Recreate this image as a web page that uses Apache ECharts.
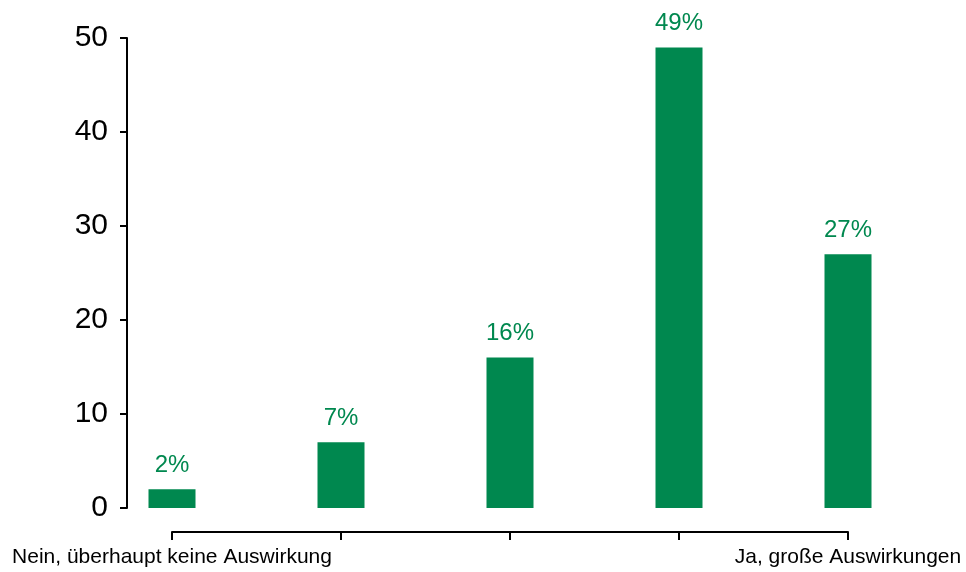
<!DOCTYPE html>
<html>
<head>
<meta charset="utf-8">
<script src="https://cdn.jsdelivr.net/npm/echarts@6/dist/echarts.min.js"></script>
<style>
html,body{margin:0;padding:0;background:#fff;}
#chart{width:966px;height:572px;}
</style>
</head>
<body>
<div id="chart"></div>
<script>
const categories = ["Nein, überhaupt keine Auswirkung", "2", "3", "4", "Ja, große Auswirkungen"];
const values = [2, 7, 16, 49, 27];
const yTicks = [0, 10, 20, 30, 40, 50];

const chart = echarts.init(document.getElementById('chart'), null, {renderer: 'canvas'});
const FONT = '"Liberation Sans", Arial, Helvetica, sans-serif';
chart.setOption({
  animation: false,
  backgroundColor: '#ffffff',
  grid: {left: 172, right: 118, top: 38, bottom: 64},
  xAxis: {
    type: 'category',
    data: categories,
    boundaryGap: false,
    offset: 24,
    axisLine: {onZero: false, lineStyle: {color: '#000', width: 2}},
    axisTick: {show: true, length: 8, lineStyle: {color: '#000', width: 2}, alignWithLabel: true},
    axisLabel: {
      interval: 0,
      margin: 15,
      color: '#000',
      fontFamily: FONT,
      fontSize: 21,
      formatter: function (v, i) { return (i === 0 || i === categories.length - 1) ? v : ''; }
    },
    splitLine: {show: false}
  },
  yAxis: {
    type: 'value',
    min: yTicks[0],
    max: yTicks[yTicks.length - 1],
    interval: 10,
    offset: 45,
    axisLine: {show: true, onZero: false, lineStyle: {color: '#000', width: 2}},
    axisTick: {show: true, length: 7, lineStyle: {color: '#000', width: 2}},
    axisLabel: {color: '#000', fontFamily: FONT, fontSize: 30, margin: 19},
    splitLine: {show: false}
  },
  series: [{
    type: 'bar',
    data: values,
    barWidth: 47,
    clip: false,
    itemStyle: {color: '#00884f'},
    label: {
      show: true,
      position: 'top',
      distance: 12,
      color: '#00884f',
      fontFamily: FONT,
      fontSize: 24,
      formatter: function (p) { return p.value + '%'; }
    }
  }]
});
</script>
</body>
</html>
